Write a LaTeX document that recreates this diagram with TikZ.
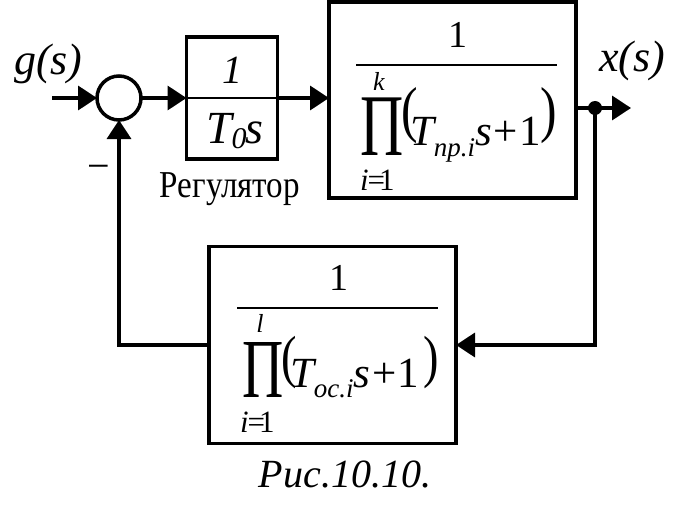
\documentclass[tikz,border=0pt]{standalone}
\usepackage{fontspec}
\usepackage{graphicx}
\setmainfont{Liberation Serif}
\usetikzlibrary{arrows.meta}
\newcommand\fsz[1]{\fontsize{#1}{#1}\selectfont}
\tikzset{
  ln/.style={line width=3.5pt},
  arr/.style={line width=3.5pt,-{Triangle[length=19pt,width=24pt]}},
  blk/.style={draw,line width=3.5pt,inner sep=0pt,outer sep=0pt},
  txt/.style={inner sep=0pt,outer sep=0pt,anchor=base west},
  ctr/.style={inner sep=0pt,outer sep=0pt,anchor=base},
  frac/.style={line width=1.5pt},
}
\begin{document}
\begin{tikzpicture}[x=1pt,y=-1pt]
\useasboundingbox[fill=white] (0,0) rectangle (676,516);
% blocks
\node[blk,circle,minimum size=44pt] (sum) at (119,98) {};
\node[blk,minimum width=91pt,minimum height=122pt] (reg) at (232,98) {};
\node[blk,minimum width=247pt,minimum height=196pt] (plant) at (452.5,100) {};
\node[blk,minimum width=247pt,minimum height=197pt] (fb) at (332.5,345) {};
% connectors
\coordinate (in) at (52,98);
\coordinate (br) at (595,108);
\coordinate (out) at (631,108);
\draw[arr] (in) -- (sum.west);
\draw[arr] (sum.east) -- (reg.west);
\draw[arr] (reg.east) -- (reg.east -| plant.west);
\draw[ln] (plant.east |- br) -- (br);
\draw[arr] (br) -- (out);
\fill (br) circle (7pt);
\draw[arr] (br) |- (fb.east);
\draw[arr] (fb.west) -| (sum.south);
% labels
\node[txt] (g) at (14,75) {\fsz{44}\itshape g(s)};
\node[txt] (x) at (599,72) {\fsz{44}\itshape x(s)};
\node[inner sep=0pt] (minus) at (99,172) {\fsz{40}−};
\node[ctr] (regl) at (230,197) {\scalebox{0.87}[1]{\fsz{38}Регулятор}};
\node[ctr] (cap) at (345,487) {\fsz{40}\itshape Рис.10.10.};
% regulator fraction
\node[ctr] (r1) at (232,84) {\fsz{40}\itshape 1};
\draw[frac] (reg.west |- 0,98) -- (reg.east |- 0,98);
\node[txt] (rden) at (206,143) {\fsz{46}\itshape T\raisebox{-5pt}{\fsz{30}0}\kern-1pt s};
% plant fraction
\node[ctr] (p1) at (458,48) {\fsz{38}1};
\draw[frac] (356,65) -- (557,65);
\node[txt] (pPi) at (360,155) {\scalebox{0.68}[1]{\fsz{88}Π}};
\node[ctr] (pk) at (379,91) {\fsz{26}\itshape k};
\node[txt] (pi1) at (360,190) {\fsz{31}\itshape i\upshape\kern-1pt=\kern-6pt1};
\node[inner sep=0pt] (plp) at (410,116) {\scalebox{0.8}[1]{\fsz{62}(}};
\node[txt] (pden) at (410,145) {\fsz{43}\itshape T\raisebox{-11pt}{\fsz{27}пр.i}s\kern2pt\upshape+\kern1pt1};
\node[inner sep=0pt] (prp) at (549,116) {\scalebox{0.8}[1]{\fsz{62})}};
% feedback fraction
\node[ctr] (f1) at (339,290) {\fsz{38}1};
\draw[frac] (237,308) -- (438,308);
\node[txt] (fPi) at (242,397) {\scalebox{0.68}[1]{\fsz{84}Π}};
\node[ctr] (fl) at (260,332) {\fsz{26}\itshape l};
\node[txt] (fi1) at (240,432) {\fsz{31}\itshape i\upshape\kern-1pt=\kern-6pt1};
\node[inner sep=0pt] (flp) at (289,363) {\scalebox{0.8}[1]{\fsz{58}(}};
\node[txt] (fden) at (290,387) {\fsz{43}\itshape T\raisebox{-10pt}{\fsz{27}ос.i}s\kern2pt\upshape+\kern1pt1};
\node[inner sep=0pt] (frp) at (431,363) {\scalebox{0.8}[1]{\fsz{58})}};
\end{tikzpicture}
\end{document}
